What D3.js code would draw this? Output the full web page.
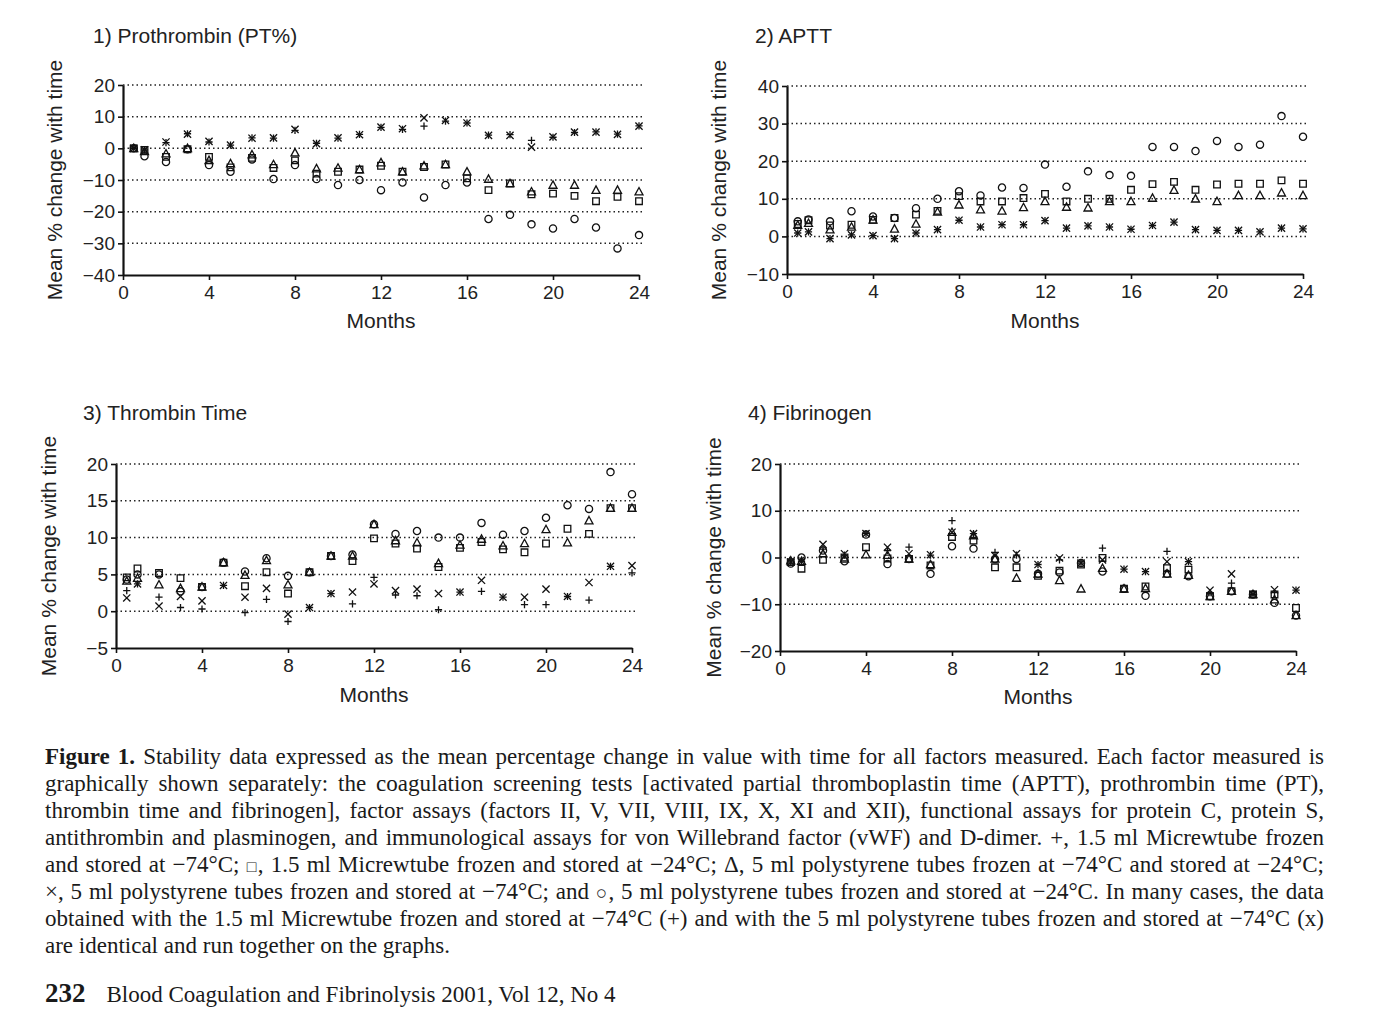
<!DOCTYPE html>
<html>
<head>
<meta charset="utf-8">
<script src="https://cdn.jsdelivr.net/npm/d3@7"></script>
<style>
body { margin:0; background:#fff; }
svg { position:absolute; left:0; top:0; }
#caption { position:absolute; left:45px; top:743px; width:1279px; font-family:"Liberation Serif","Times New Roman",serif; font-size:23px; line-height:27px; color:#1a1a1a; }
#caption div { height:27px; overflow:visible; }
#caption div.j { text-align:justify; text-align-last:justify; white-space:nowrap; }
#caption .sym { font-size:16px; line-height:0; }
#caption .symc { font-size:19px; line-height:0; }
#footer { position:absolute; left:45px; top:978px; font-family:"Liberation Serif","Times New Roman",serif; font-size:23px; color:#1a1a1a; }
#footer b { font-size:27px; margin-right:21px; }
</style>
</head>
<body>
<svg id="fig" width="1384" height="730"></svg>
<div id="caption"></div>
<div id="footer"><b>232</b>Blood Coagulation and Fibrinolysis 2001, Vol 12, No 4</div>
<script>
// sampling times (months)
var months = [0.5,1,2,3,4,5,6,7,8,9,10,11,12,13,14,15,16,17,18,19,20,21,22,23,24];

// 1) Prothrombin (PT%)
var ptPlus     = [0,-0.5,1.8,4.6,2.0,1,3.3,3.2,5.7,1.6,3.2,4.4,6.6,6.0,7,8.6,8,4.2,4.3,2.5,3.5,5,5.2,4.5,7.1];
var ptSquare   = [0,-0.5,-2.7,-0.3,-2.7,-6,-3,-6.2,-3.8,-8,-7.4,-6.7,-5.5,-7.4,-5.9,-5.1,-9.5,-13.2,-11.1,-14.5,-14.3,-15,-16.7,-15.3,-16.7];
var ptTriangle = [0,-1,-1.7,0,-3.8,-4.8,-2,-5.1,-1.4,-6.4,-6.2,-6.7,-4.5,-7.4,-5.5,-5.1,-7.4,-9.7,-11.1,-13.7,-11.6,-11.6,-13.2,-13.2,-13.7];
var ptCross    = [0,-0.5,2,4.5,2.2,1,3.2,3.3,6,1.5,3.3,4.3,6.7,6.2,9.6,8.8,8,4.1,4.1,0.4,3.6,5.1,5.1,4.4,7];
var ptCircle   = [0,-2.5,-4.3,-0.3,-5.3,-7.4,-3.5,-9.7,-5.3,-9.7,-11.6,-10,-13.2,-10.8,-15.5,-11.6,-10.8,-22.3,-21,-24,-25.3,-22.3,-25,-31.6,-27.4];

// 2) APTT
var apttPlus     = [0.9,1.2,-0.6,0.4,0.2,-0.6,0.9,1.8,4.3,2.5,3.1,3.1,4.2,2.2,2.8,2.5,1.9,2.9,3.8,1.8,1.6,1.6,1.2,2.2,2];
var apttSquare   = [3.3,4.3,2.9,3.1,4.4,4.9,5.8,6.8,10.7,9.3,9.3,10.2,11.3,9.3,10,10,12.4,13.9,14.5,12.4,13.8,14,14,14.9,14];
var apttTriangle = [3.0,3.5,1.8,2.5,4.4,2,3.3,6.5,8.4,7.1,6.8,7.7,9.3,7.8,7.6,9.3,9.3,10.2,12.3,10,9.3,10.9,10.9,11.6,10.9];
var apttCross    = [0.9,1.2,-0.6,0.4,0.2,-0.6,0.9,1.8,4.3,2.5,3.1,3.1,4.2,2.2,2.8,2.5,1.9,2.9,3.8,1.8,1.6,1.6,1.2,2.2,2];
var apttCircle   = [4,4.5,4,6.7,5.3,4.9,7.5,10,12,10.9,13,12.9,19.1,13.2,17.3,16.3,16.1,23.8,23.8,22.7,25.4,23.8,24.4,32,26.5];

// 3) Thrombin Time
var ttPlus     = [2.8,3.7,1.9,0.5,0.3,3.5,-0.2,1.6,-1.4,0.5,2.4,1,4.6,2.2,2.1,0.2,2.6,2.7,1.9,0.9,0.9,2,1.5,6.1,5.2];
var ttSquare   = [4.6,5.8,5.2,4.5,3.3,6.6,3.4,5.3,2.4,5.3,7.5,6.8,9.9,9.2,8.5,6,8.6,9.4,8.4,8,9.2,11.2,10.5,14,14];
var ttTriangle = [4.1,4.5,3.6,3.1,3.3,6.6,4.9,6.9,3.6,5.3,7.5,7.5,11.8,9.6,9.3,6.5,9,9.8,8.9,9.2,11.1,9.3,12.3,14,14];
var ttCross    = [1.8,3.7,0.7,2,1.4,3.5,1.9,3.1,-0.4,0.5,2.4,2.6,3.7,2.8,3,2.4,2.6,4.2,1.9,1.9,3,2,3.9,6.1,6.2];
var ttCircle   = [4.3,5,5,2.7,3.3,6.6,5.4,7.2,4.8,5.3,7.5,7.7,11.8,10.5,10.9,10,10,12,10.4,10.9,12.7,14.4,13.9,18.9,15.9];

// 4) Fibrinogen
var fibPlus     = [-1,-0.8,1.8,0.5,5.1,1.5,2.2,0.5,7.9,5.1,1.1,0.5,-1.5,-0.5,-1.2,2,-2.5,-3,1.3,-0.9,-7.5,-5.5,-7.9,-7.5,-7];
var fibSquare   = [-1,-2.4,-0.5,0,2.2,-0.2,-0.3,-1.7,4.4,3.6,-2.1,-2.1,-3.9,-2.8,-1.5,-0.1,-6.7,-6.2,-2.3,-2.6,-8.3,-7.2,-7.9,-7.9,-10.8];
var fibTriangle = [-0.7,-0.8,0.8,-0.3,0.6,0.5,-0.3,-1.5,5.4,4.7,-0.3,-4.4,-3.5,-4.9,-6.7,-2.3,-6.7,-6.6,-3.5,-3.8,-8.3,-7.2,-7.9,-9,-12.4];
var fibCross    = [-1,-0.8,2.8,0.8,5.1,2.2,0.8,0.6,5.4,5.1,0.4,0.8,-1.5,-0.1,-1.2,-0.5,-2.5,-3,-0.9,-0.9,-7,-3.5,-7.9,-6.9,-7];
var fibCircle   = [-1.3,0,1.5,-0.8,4.9,-1.4,-0.3,-3.5,2.4,1.9,-0.3,-0.3,-3.5,-3.2,-1.2,-3,-6.7,-8.2,-3.5,-4,-8.3,-7.2,-7.9,-9.7,-12.4];

var xTicks = [0,4,8,12,16,20,24];
var seriesTypes = ["plus","square","triangle","cross","circle"];

var panels = [
  {title:"1) Prothrombin (PT%)", yDomain:[-40,20], yStep:10, left:123, right:639, top:85, bottom:275, titleX:93, titleY:43, ylabX:55, monthsY:328,
   series:[ptPlus, ptSquare, ptTriangle, ptCross, ptCircle]},
  {title:"2) APTT", yDomain:[-10,40], yStep:10, left:787, right:1303, top:86, bottom:274, titleX:755, titleY:43, ylabX:719, monthsY:328,
   series:[apttPlus, apttSquare, apttTriangle, apttCross, apttCircle]},
  {title:"3) Thrombin Time", yDomain:[-5,20], yStep:5, left:116, right:632, top:464, bottom:648, titleX:83, titleY:420, ylabX:49, monthsY:702,
   series:[ttPlus, ttSquare, ttTriangle, ttCross, ttCircle]},
  {title:"4) Fibrinogen", yDomain:[-20,20], yStep:10, left:780, right:1296, top:464, bottom:651, titleX:748, titleY:420, ylabX:714, monthsY:704,
   series:[fibPlus, fibSquare, fibTriangle, fibCross, fibCircle]}
];

function markerPath(type) {
  var p = d3.path(), h = 3.6;
  if (type == "plus") { p.moveTo(-h,0); p.lineTo(h,0); p.moveTo(0,-h); p.lineTo(0,h); }
  else if (type == "cross") { p.moveTo(-h,-h); p.lineTo(h,h); p.moveTo(-h,h); p.lineTo(h,-h); }
  else if (type == "square") { p.rect(-3.3,-3.3,6.6,6.6); }
  else if (type == "triangle") { p.moveTo(0,-4.2); p.lineTo(4,3.2); p.lineTo(-4,3.2); p.closePath(); }
  else { p.moveTo(3.6,0); p.arc(0,0,3.6,0,2*Math.PI); }
  return p.toString();
}

var svg = d3.select("#fig");
var font = "'Liberation Sans', Arial, sans-serif";

panels.forEach(function(pn) {
  var x = d3.scaleLinear().domain([0,24]).range([pn.left, pn.right]);
  var y = d3.scaleLinear().domain(pn.yDomain).range([pn.bottom, pn.top]);
  var yTicks = d3.range(pn.yDomain[0], pn.yDomain[1] + 0.1, pn.yStep);
  var g = svg.append("g");

  // dotted grid lines
  g.selectAll(".grid").data(yTicks.slice(1)).enter().append("line")
    .attr("x1", pn.left).attr("x2", pn.right + 5)
    .attr("y1", function(d) { return y(d); }).attr("y2", function(d) { return y(d); })
    .attr("stroke", "#222").attr("stroke-width", 1.5).attr("stroke-dasharray", "1.5,3");

  var ay = g.append("g").attr("transform", "translate(" + pn.left + ",0)")
    .call(d3.axisLeft(y).tickValues(yTicks).tickSize(5).tickSizeOuter(0).tickPadding(3));
  var ax = g.append("g").attr("transform", "translate(0," + pn.bottom + ")")
    .call(d3.axisBottom(x).tickValues(xTicks).tickSize(5).tickSizeOuter(0).tickPadding(6));
  [ay, ax].forEach(function(a) {
    a.select(".domain").attr("stroke", "#111").attr("stroke-width", 2.2);
    a.selectAll(".tick line").attr("stroke", "#111").attr("stroke-width", 1.6);
    a.selectAll("text").attr("font-family", font).attr("font-size", 19).attr("fill", "#222");
  });

  // markers
  pn.series.forEach(function(vals, si) {
    g.selectAll(".m" + si).data(vals).enter().append("path")
      .attr("d", markerPath(seriesTypes[si]))
      .attr("transform", function(d, i) { return "translate(" + x(months[i]) + "," + y(d) + ")"; })
      .attr("fill", "none").attr("stroke", "#111").attr("stroke-width", 1.3);
  });

  g.append("text").attr("x", pn.titleX).attr("y", pn.titleY)
    .attr("font-family", font).attr("font-size", 21).attr("fill", "#222").text(pn.title);
  g.append("text").attr("x", (pn.left + pn.right) / 2).attr("y", pn.monthsY)
    .attr("text-anchor", "middle").attr("font-family", font).attr("font-size", 21).attr("fill", "#222").text("Months");
  g.append("text").attr("transform", "translate(" + pn.ylabX + "," + ((pn.top + pn.bottom) / 2) + ") rotate(-90)")
    .attr("text-anchor", "middle").attr("dy", "0.35em")
    .attr("font-family", font).attr("font-size", 21).attr("fill", "#222").text("Mean % change with time");
});

var captionLines = [
  "<b>Figure 1.</b> Stability data expressed as the mean percentage change in value with time for all factors measured. Each factor measured is",
  "graphically shown separately: the coagulation screening tests [activated partial thromboplastin time (APTT), prothrombin time (PT),",
  "thrombin time and fibrinogen], factor assays (factors II, V, VII, VIII, IX, X, XI and XII), functional assays for protein C, protein S,",
  "antithrombin and plasminogen, and immunological assays for von Willebrand factor (vWF) and D-dimer. +, 1.5 ml Micrewtube frozen",
  "and stored at \u221274\u00b0C; <span class='sym'>\u25a1</span>, 1.5 ml Micrewtube frozen and stored at \u221224\u00b0C; \u0394, 5 ml polystyrene tubes frozen at \u221274\u00b0C and stored at \u221224\u00b0C;",
  "\u00d7, 5 ml polystyrene tubes frozen and stored at \u221274\u00b0C; and <span class='symc'>\u25cb</span>, 5 ml polystyrene tubes frozen and stored at \u221224\u00b0C. In many cases, the data",
  "obtained with the 1.5 ml Micrewtube frozen and stored at \u221274\u00b0C (+) and with the 5 ml polystyrene tubes frozen and stored at \u221274\u00b0C (x)",
  "are identical and run together on the graphs."
];
d3.select("#caption").selectAll("div").data(captionLines).enter().append("div")
  .attr("class", function(d, i) { return i < captionLines.length - 1 ? "j" : null; })
  .html(function(d) { return d; });
</script>
</body>
</html>
